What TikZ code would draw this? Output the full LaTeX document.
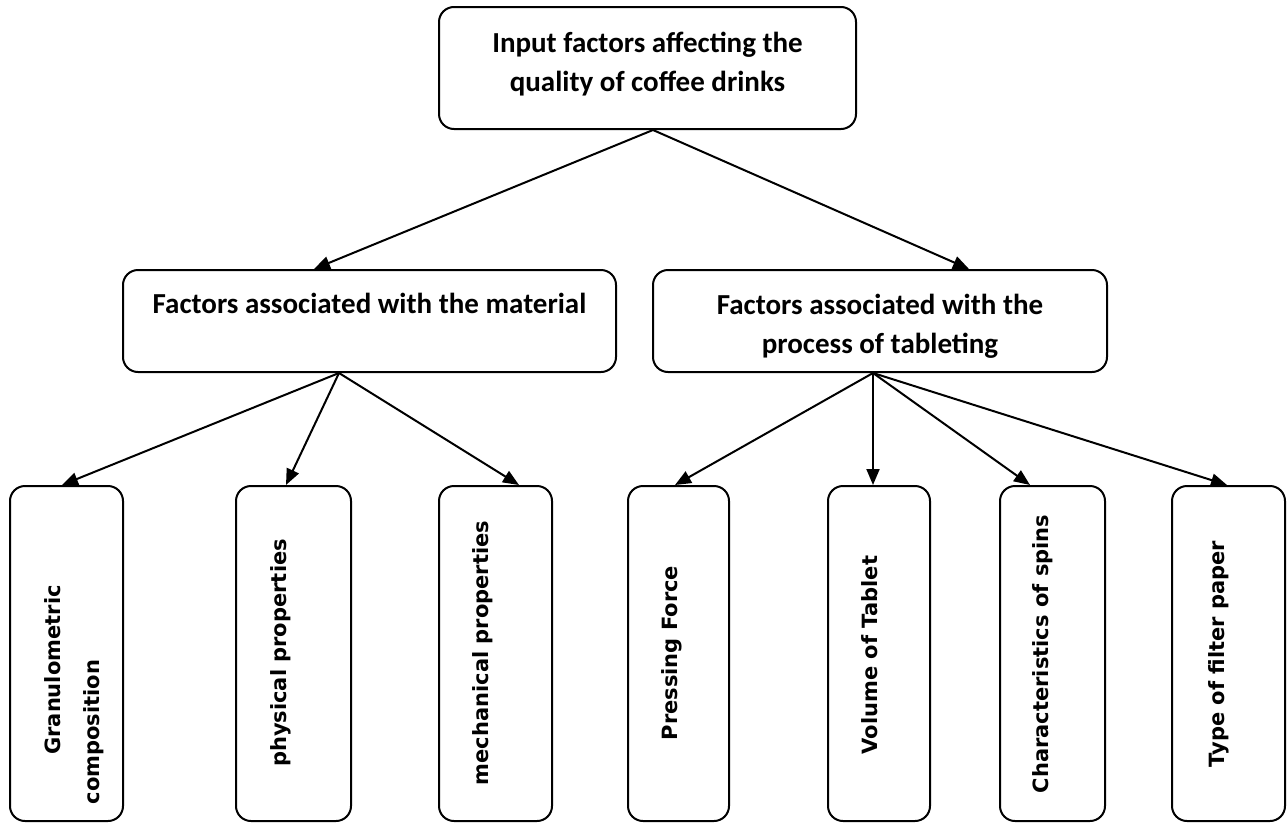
\documentclass[tikz,border=0pt]{standalone}
\usepackage{fontspec}
\setmainfont{Carlito}
\newfontfamily\vertfont{DejaVu Sans}
\usetikzlibrary{arrows.meta}

\begin{document}
\begin{tikzpicture}[x=1pt, y=-1pt, align=center,
    box/.style={draw, line width=2pt, rounded corners=15pt, inner sep=0pt},
    head/.style={font=\fontsize{29}{39}\selectfont\bfseries},
    leaf/.style={font=\vertfont\fontsize{21}{39}\selectfont\bfseries, rotate=90},
    arr/.style={-{Triangle[length=16pt, width=13pt]}, line width=2pt}]
  \useasboundingbox (0,0) rectangle (1287,822);

  % top level
  \node[box, minimum width=417pt, minimum height=122pt] (top) at (647.5,68) {};
  \node[head] (topT) at (647.5,64) {Input factors affecting the\\ quality of coffee drinks};

  % second level
  \node[box, minimum width=493pt, minimum height=102pt] (mat) at (369.5,321) {};
  \node[head] (matT) at (369.5,303) {Factors associated with the material};
  \node[box, minimum width=454pt, minimum height=102pt] (proc) at (880,321) {};
  \node[head] (procT) at (880,326) {Factors associated with the\\ process of tableting};

  % leaves
  \node[box, minimum width=113pt, minimum height=335pt] (gran) at (66.5,653.5) {};
  \node[box, minimum width=115pt, minimum height=335pt] (phys) at (293.5,653.5) {};
  \node[box, minimum width=113pt, minimum height=335pt] (mech) at (495.5,653.5) {};
  \node[box, minimum width=101pt, minimum height=335pt] (press) at (678.5,653.5) {};
  \node[box, minimum width=102pt, minimum height=335pt] (vol) at (879,653.5) {};
  \node[box, minimum width=105pt, minimum height=335pt] (char) at (1052.5,653.5) {};
  \node[box, minimum width=113pt, minimum height=335pt] (type) at (1228.5,653.5) {};

  \node[leaf] (granT) at (74.5,670) {Granulometric\\ composition\hspace*{124pt}};
  \node[leaf] (physT) at (281,653) {physical properties};
  \node[leaf] (mechT) at (483,653) {mechanical properties};
  \node[leaf] (pressT) at (672,653) {Pressing Force};
  \node[leaf] (volT) at (869.5,655) {Volume of Tablet};
  \node[leaf] (charT) at (1042.5,654) {Characteristics of spins};
  \node[leaf] (typeT) at (1219,654) {Type of filter paper};

  % connectors
  \draw[arr] ([xshift=5.5pt]top.south) -- ([xshift=-55.5pt]mat.north);
  \draw[arr] ([xshift=5.5pt]top.south) -- ([xshift=89pt]proc.north);
  \foreach \n/\s in {gran/-4.5, phys/-7.5, mech/23.5}
    \draw[arr] ([xshift=-30.5pt]mat.south) -- ([xshift=\s pt]\n.north);
  \foreach \n/\s in {press/-3.5, vol/-6, char/-22.5, type/-1.5}
    \draw[arr] ([xshift=-7pt]proc.south) -- ([xshift=\s pt]\n.north);
\end{tikzpicture}
\end{document}
